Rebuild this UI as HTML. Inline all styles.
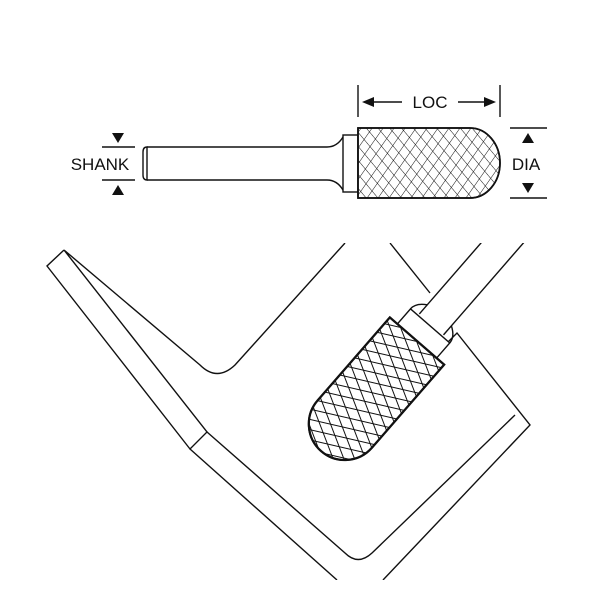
<!DOCTYPE html>
<html><head><style>html,body{margin:0;padding:0;background:#fff}svg{display:block}</style></head>
<body>
<svg width="600" height="600" viewBox="0 0 600 600" xmlns="http://www.w3.org/2000/svg">
<defs>
<pattern id="h1" width="9" height="9" patternUnits="userSpaceOnUse" patternTransform="rotate(35)">
<line x1="0" y1="0" x2="0" y2="9" stroke="#111" stroke-width="1"/></pattern>
<pattern id="h2" width="9" height="9" patternUnits="userSpaceOnUse" patternTransform="rotate(-40)">
<line x1="0" y1="0" x2="0" y2="9" stroke="#111" stroke-width="1"/></pattern>
<pattern id="n1" width="10" height="10" patternUnits="userSpaceOnUse" patternTransform="rotate(28)">
<line x1="0" y1="0" x2="0" y2="10" stroke="#111" stroke-width="2"/></pattern>
<pattern id="n2" width="10" height="10" patternUnits="userSpaceOnUse" patternTransform="rotate(-28)">
<line x1="0" y1="0" x2="0" y2="10" stroke="#111" stroke-width="2"/></pattern>
<clipPath id="pc"><rect x="0" y="243" width="600" height="337"/></clipPath>
</defs>
<g fill="none" stroke="#111" stroke-width="1.4" font-family="Liberation Sans, sans-serif">
<path d="M147,147 H327 Q337,147 343,137 M147,180 H327 Q337,180 343,190"/>
<path d="M147,147 Q143,147 143,152 V175 Q143,180 147,180 Z"/>
<rect x="343" y="135" width="15" height="57"/>
<path d="M358,128 H470 A30,35 0 0 1 470,198 H358 Z" fill="#fff"/>
<path d="M358,128 H470 A30,35 0 0 1 470,198 H358 Z" fill="url(#h1)" stroke="none"/>
<path d="M358,128 H470 A30,35 0 0 1 470,198 H358 Z" fill="url(#h2)" stroke-width="1.8"/>
<line x1="358" y1="85" x2="358" y2="117"/><line x1="500" y1="85" x2="500" y2="117"/>
<line x1="368" y1="102" x2="402" y2="102"/><line x1="458" y1="102" x2="490" y2="102"/>
<path d="M362,102 L374,97 L374,107Z M496,102 L484,97 L484,107Z" fill="#111" stroke="none"/>
<text x="430" y="108" font-size="17" fill="#111" stroke="none" text-anchor="middle">LOC</text>
<line x1="510" y1="128" x2="547" y2="128"/><line x1="510" y1="198" x2="547" y2="198"/>
<path d="M528,133 L522,143 L534,143Z M528,193 L522,183 L534,183Z" fill="#111" stroke="none"/>
<text x="526" y="170" font-size="17" fill="#111" stroke="none" text-anchor="middle">DIA</text>
<line x1="102" y1="147" x2="135" y2="147"/><line x1="102" y1="180" x2="135" y2="180"/>
<path d="M118,143 L112,133 L124,133Z M118,185 L112,195 L124,195Z" fill="#111" stroke="none"/>
<text x="100" y="170" font-size="17" fill="#111" stroke="none" text-anchor="middle">SHANK</text>

<g clip-path="url(#pc)">
<path d="M64,250 L47,266 L190,449 L207,432 L64,250 L200,365 Q217,382 235,365 L345,243"/>
<line x1="190" y1="449" x2="337" y2="580"/>
<path d="M207,432 L345,553 Q358,566 372,553 L515,415"/>
<path d="M383,580 L530,425 L457,333 L445,345"/>
<line x1="390" y1="243" x2="430" y2="293"/>
<g transform="translate(417,341) rotate(131)">
<path d="M-22,-16 Q-32,-16 -40,-16 L-200,-16 M-22,16 Q-32,16 -40,16 L-200,16"/>
<path d="M-20,-26 Q-28,-26 -34,-16 M-20,26 Q-28,26 -34,16"/>
<rect x="-20" y="-26" width="20" height="52" fill="#fff"/>
<path d="M0,-36 H110 A36,36 0 0 1 110,36 H0 Z" fill="#fff" stroke-width="2"/>
<path d="M0,-36 H110 A36,36 0 0 1 110,36 H0 Z" fill="url(#n1)" stroke="none"/>
<path d="M0,-36 H110 A36,36 0 0 1 110,36 H0 Z" fill="url(#n2)" stroke="#111" stroke-width="2.2"/>
</g>
</g>
</g>
</svg>
</body></html>
